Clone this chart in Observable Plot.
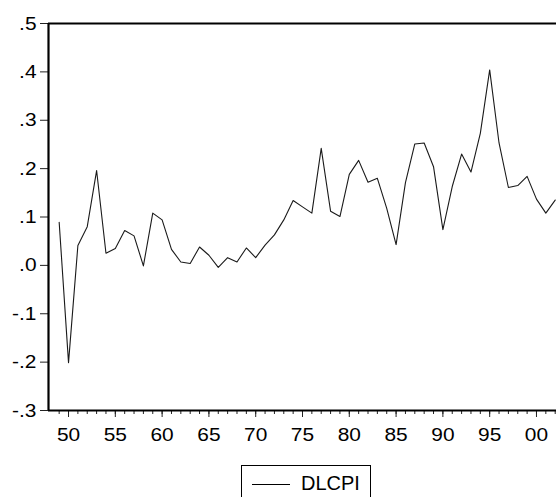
<!DOCTYPE html>
<html>
<head>
<meta charset="utf-8">
<script src="https://cdn.jsdelivr.net/npm/d3@7"></script>
<script src="https://cdn.jsdelivr.net/npm/@observablehq/plot@0.6"></script>
<style>
  html, body { margin: 0; padding: 0; background: #fff; overflow: hidden; }
  #chart { width: 556px; }
  #chart svg text { font-size: 19px !important; font-family: "Liberation Sans", Arial, sans-serif !important; fill: #000; }
  #legend { position: relative; width: 556px; height: 42px; font-family: "Liberation Sans", Arial, sans-serif; }
  #legend .box { position: absolute; left: 241px; top: 10px; width: 130px; height: 60px; border: 1.5px solid #000; box-sizing: border-box; }
  #legend .sample { position: absolute; left: 252px; top: 29px; width: 38px; height: 0; border-top: 1px solid #000; }
  #legend .label { position: absolute; left: 301px; top: 18px; font-size: 20px; line-height: 20px; color: #000; }
</style>
</head>
<body>
<div id="chart"></div>
<div id="legend"><div class="box"></div><div class="sample"></div><div class="label" id="seriesName"></div></div>
<script>
const seriesName = "DLCPI";
const years = [1949,1950,1951,1952,1953,1954,1955,1956,1957,1958,1959,1960,1961,1962,1963,1964,1965,1966,1967,1968,1969,1970,1971,1972,1973,1974,1975,1976,1977,1978,1979,1980,1981,1982,1983,1984,1985,1986,1987,1988,1989,1990,1991,1992,1993,1994,1995,1996,1997,1998,1999,2000,2001,2002];
const dlcpi = [0.089,-0.201,0.041,0.080,0.196,0.025,0.035,0.072,0.061,-0.001,0.108,0.094,0.033,0.007,0.004,0.038,0.021,-0.004,0.016,0.007,0.036,0.016,0.042,0.063,0.094,0.134,0.121,0.108,0.242,0.112,0.101,0.188,0.217,0.172,0.180,0.118,0.043,0.171,0.251,0.253,0.204,0.074,0.163,0.230,0.193,0.273,0.404,0.253,0.161,0.165,0.184,0.137,0.108,0.135];
const majorYears = [1950,1955,1960,1965,1970,1975,1980,1985,1990,1995,2000];
const xTickLabels = ["50","55","60","65","70","75","80","85","90","95","00"];
const yTicks = [0.5,0.4,0.3,0.2,0.1,0.0,-0.1,-0.2,-0.3];
const yTickLabels = [".5",".4",".3",".2",".1",".0","-.1","-.2","-.3"];
const xDomain = [1947.86, 2002.14];
const yDomain = [-0.3, 0.5];

const data = years.map((year, i) => ({year, value: dlcpi[i]}));
const yLabelMap = new Map(yTicks.map((t, i) => [t.toFixed(1), yTickLabels[i]]));
const xLabelMap = new Map(majorYears.map((t, i) => [t, xTickLabels[i]]));

const chart = Plot.plot({
  width: 556,
  height: 455,
  marginLeft: 48,
  marginRight: 0,
  marginTop: 23,
  marginBottom: 45,
  style: {fontFamily: "'Liberation Sans', Arial, sans-serif", fontSize: "19px", color: "#000", background: "#fff"},
  x: {domain: xDomain, label: null},
  y: {domain: yDomain, label: null},
  marks: [
    Plot.axisY({ticks: yTicks, tickSize: 8, tickPadding: 4, label: null,
      stroke: "#222", tickFormat: d => yLabelMap.get((+d).toFixed(1)) ?? ""}),
    Plot.axisX({ticks: years, tickSize: 4, label: null, stroke: "#222", tickFormat: () => ""}),
    Plot.axisX({ticks: majorYears, tickSize: 7, tickPadding: 10, label: null,
      stroke: "#222", tickFormat: d => xLabelMap.get(d) ?? ""}),
    Plot.ruleX([xDomain[0]], {stroke: "#000", strokeWidth: 2.2}),
    Plot.ruleY([yDomain[0], yDomain[1]], {stroke: "#000", strokeWidth: 2.2}),
    Plot.line(data, {x: "year", y: "value", stroke: "#1a1a1a", strokeWidth: 1.1})
  ]
});
// slightly widen tick label glyphs, as in the original rendering
d3.select(chart).selectAll("g[aria-label$='tick label'] text").each(function() {
  const t = this.getAttribute("transform");
  if (t) {
    this.setAttribute("transform", t + " scale(1.1,1)");
  } else {
    const x = +this.getAttribute("x") || 0, y = +this.getAttribute("y") || 0;
    this.setAttribute("x", 0); this.setAttribute("y", 0);
    this.setAttribute("transform", `translate(${x},${y}) scale(1.1,1)`);
  }
});
document.getElementById("chart").appendChild(chart);
document.getElementById("seriesName").textContent = seriesName;
</script>
</body>
</html>
